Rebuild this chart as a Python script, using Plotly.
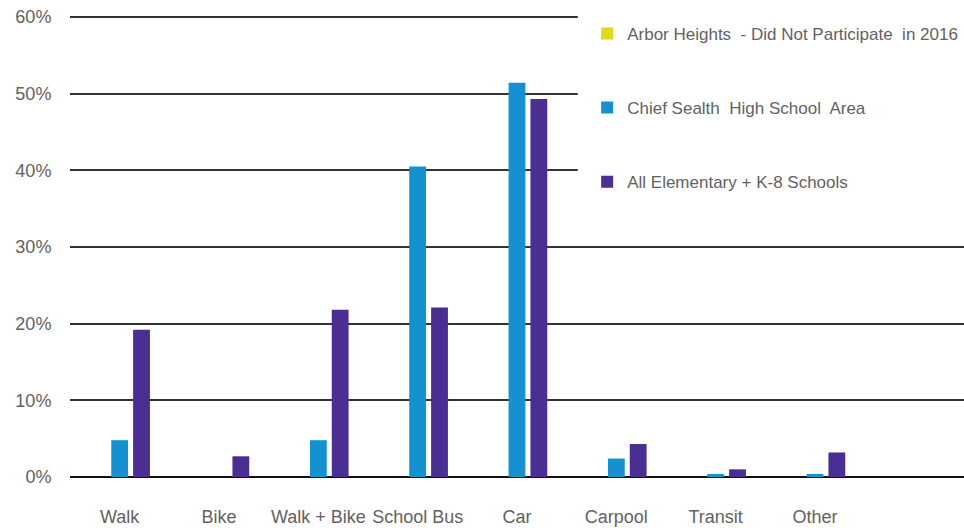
import plotly.graph_objects as go

categories = ["Walk", "Bike", "Walk + Bike", "School Bus", "Car", "Carpool", "Transit", "Other"]
series_names = ["Arbor Heights  - Did Not Participate  in 2016",
                "Chief Sealth  High School  Area",
                "All Elementary + K-8 Schools"]
arbor = [0, 0, 0, 0, 0, 0, 0, 0]
chief = [4.8, 0, 4.8, 40.5, 51.4, 2.4, 0.4, 0.4]
all_elem = [19.2, 2.7, 21.8, 22.1, 49.3, 4.3, 1.0, 3.2]
colors = ["#e2d81c", "#1591d0", "#4a2e91"]
y_ticks = [0, 10, 20, 30, 40, 50, 60]

FONT = "Liberation Sans Narrow, Liberation Sans, Arial, sans-serif"
TXT = "#626262"

fig = go.Figure()
for i, (name, vals) in enumerate(zip(series_names, [arbor, chief, all_elem])):
    fig.add_trace(go.Bar(x=categories, y=vals, name=name,
                         marker=dict(color=colors[i], line=dict(width=0)),
                         legendgroup=str(i)))

# white panel behind the legend (hides the gridlines there, as in the original)
fig.add_shape(type="rect", xref="paper", yref="paper",
              x0=0.568, x1=1.0, y0=0.62, y1=1.03,
              fillcolor="white", line=dict(width=0), layer="above")

fig.update_layout(
    width=964, height=531,
    margin=dict(l=70, r=0, t=15, b=54, autoexpand=False),
    paper_bgcolor="white", plot_bgcolor="white",
    barmode="group", bargap=0.34, bargroupgap=0.23,
    font=dict(family=FONT, color=TXT, size=17),
    showlegend=True,
    legend=dict(x=0.5785, xanchor="left", y=0.998, yanchor="top",
                bgcolor="rgba(0,0,0,0)", traceorder="grouped", tracegroupgap=49,
                font=dict(family=FONT, size=17, color=TXT),
                itemwidth=30),
    xaxis=dict(range=[-0.5, 8.5], showgrid=False, showline=False, zeroline=False,
               tickangle=0, ticks="outside", ticklen=23, tickcolor="white",
               tickfont=dict(family=FONT, size=18, color=TXT)),
    yaxis=dict(range=[0, 60.25], tickvals=y_ticks, ticktext=[f"{v}%" for v in y_ticks],
               showgrid=True, gridcolor="#333333", gridwidth=2,
               zeroline=True, zerolinecolor="#111111", zerolinewidth=2,
               showline=False, ticks="outside", ticklen=14, tickcolor="white",
               tickfont=dict(family=FONT, size=18, color=TXT)),
)

fig.write_html("out.html", config={"displayModeBar": False},
               post_script="document.body.style.margin='0px';")
